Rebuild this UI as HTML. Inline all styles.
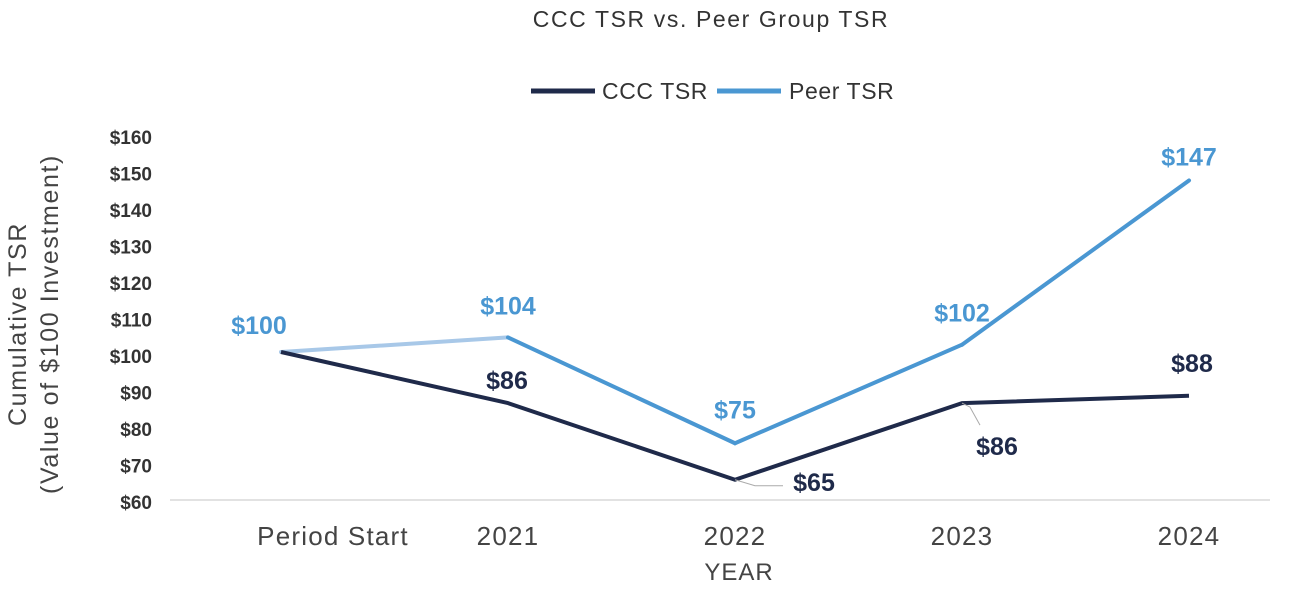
<!DOCTYPE html>
<html><head><meta charset="utf-8"><style>
body{margin:0;background:#fff;}
svg text{font-family:"Liberation Sans",sans-serif;}
</style></head><body>
<svg id="chart" width="1300" height="588">
<text x="711" y="27" text-anchor="middle" font-size="23" letter-spacing="1.6" fill="#333">CCC TSR vs. Peer Group TSR</text>
<g>
<line x1="531" y1="91" x2="595" y2="91" stroke="#1f2a4a" stroke-width="5"/>
<text x="602" y="99" font-size="23" letter-spacing="0.6" fill="#333">CCC TSR</text>
<line x1="717" y1="91" x2="781" y2="91" stroke="#4a97d2" stroke-width="5"/>
<text x="789" y="99" font-size="23" letter-spacing="0.6" fill="#333">Peer TSR</text>
</g>
<g transform="translate(26,324) rotate(-90)">
<text x="0" y="0" text-anchor="middle" font-size="25" letter-spacing="1.6" fill="#444">Cumulative TSR</text>
<text x="0" y="32" text-anchor="middle" font-size="25" letter-spacing="1.6" fill="#444">(Value of $100 Investment)</text>
</g>
<text x="739" y="580" text-anchor="middle" font-size="24" letter-spacing="1" fill="#444">YEAR</text>
<g id="plot"></g>
</svg>
<script>
const categories=["Period Start","2021","2022","2023","2024"];
const cccValues=[100,86,65,86,88];
const peerValues=[100,104,75,102,147];
const yTicks=[60,70,80,90,100,110,120,130,140,150,160];
const NS="http://www.w3.org/2000/svg";
const plot=document.getElementById('plot');
function xs(i){return 281+i*227;}
function ys(v){return 498-(v-60)*3.65;}
function mk(t,a,txt){const e=document.createElementNS(NS,t);for(const k in a)e.setAttribute(k,a[k]);if(txt!==undefined)e.textContent=txt;plot.appendChild(e);return e;}
let e=mk('line',{x1:170,x2:1270,y1:500,y2:500,stroke:'#d9d9d9','stroke-width':1.5});


yTicks.forEach(v=>{const t=mk('text',{x:152,y:ys(v)+11,'text-anchor':'end','font-size':19,'font-weight':'bold',fill:'#333'},'$'+v);

});
categories.forEach((c,i)=>{const x=i===0?333:xs(i);const t=mk('text',{x:x,y:545,'text-anchor':'middle','font-size':26,'letter-spacing':1.2,fill:'#444'},c);

});
for(let i=0;i<peerValues.length-1;i++){const l=mk('line',{x1:xs(i),y1:ys(peerValues[i]),x2:xs(i+1),y2:ys(peerValues[i+1]),stroke:i===0?'#a8c8e8':'#4a97d2','stroke-width':4,'stroke-linecap':'round'});

}
const pc=mk('polyline',{points:cccValues.map((v,i)=>xs(i)+','+ys(v)).join(' '),fill:'none',stroke:'#1f2a4a','stroke-width':4,'stroke-linejoin':'round'});


const peerOff=[[-22,-18],[0,-23],[0,-25],[0,-23],[0,-15]];
peerValues.forEach((v,i)=>{const t=mk('text',{x:xs(i)+peerOff[i][0],y:ys(v)+peerOff[i][1],'text-anchor':'middle','font-size':25,'font-weight':'bold',fill:'#4a97d2'},'$'+v);

});
const cccOff=[null,[-1,-14],[79,11],[35,52],[3,-24]];
cccValues.forEach((v,i)=>{if(!cccOff[i])return;const t=mk('text',{x:xs(i)+cccOff[i][0],y:ys(v)+cccOff[i][1],'text-anchor':'middle','font-size':25,'font-weight':'bold',fill:'#1f2a4a'},'$'+v);

});
let l1=mk('polyline',{points:`${xs(2)},${ys(65)} ${xs(2)+20},${ys(65)+6} ${xs(2)+48},${ys(65)+6}`,fill:'none',stroke:'#aaa','stroke-width':1});


let l2=mk('polyline',{points:`${xs(3)},${ys(86)} ${xs(3)+8},${ys(86)+4} ${xs(3)+18},${ys(86)+22}`,fill:'none',stroke:'#aaa','stroke-width':1});


</script>
</body></html>
